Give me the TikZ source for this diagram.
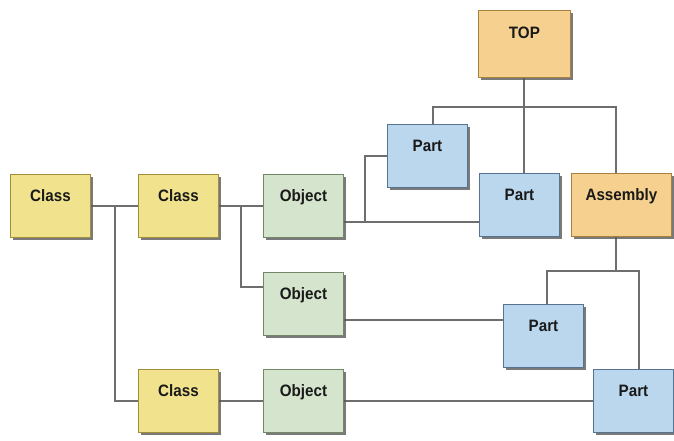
\documentclass[tikz,border=0pt]{standalone}
\usepackage{fontspec}
\setmainfont{Liberation Sans}
\newfontfamily\boxfont[FakeStretch=0.92]{Liberation Sans}
\usetikzlibrary{shadows,backgrounds}

\definecolor{classfill}{RGB}{241,227,142}
\definecolor{classedge}{RGB}{160,142,60}
\definecolor{objfill}{RGB}{213,228,204}
\definecolor{objedge}{RGB}{115,136,105}
\definecolor{partfill}{RGB}{186,215,238}
\definecolor{partedge}{RGB}{86,116,146}
\definecolor{asmfill}{RGB}{245,208,142}
\definecolor{asmedge}{RGB}{168,128,62}
\definecolor{wire}{RGB}{110,110,110}
\definecolor{ink}{RGB}{25,25,25}

\tikzset{
  box/.style={anchor=north west, rectangle, line width=0.9pt,
    minimum width=80pt, inner xsep=2pt, inner ysep=0pt,
    text height=27pt, text depth=36pt,
    font=\boxfont\bfseries\fontsize{16.5}{18}\selectfont, text=ink,
    drop shadow={shadow xshift=3pt, shadow yshift=-3pt, fill=black!65, opacity=0.8}},
  classbox/.style={box, fill=classfill, draw=classedge},
  objbox/.style={box, fill=objfill, draw=objedge},
  partbox/.style={box, fill=partfill, draw=partedge},
  asmbox/.style={box, fill=asmfill, draw=asmedge},
  wireline/.style={draw=wire, line width=1.3pt}
}

\begin{document}
\begin{tikzpicture}[x=1pt, y=-1pt]
  \useasboundingbox (0,0) rectangle (674,440);

  % classes
  \node[classbox] (cl1) at (10,174) {Class};
  \node[classbox] (cl2) at (138,174) {Class};
  \node[classbox] (cl3) at (138,369) {Class};

  % objects
  \node[objbox] (ob1) at (263,174) {Object};
  \node[objbox] (ob2) at (263,272) {Object};
  \node[objbox] (ob3) at (263,369) {Object};

  % parts and assemblies
  \node[asmbox, minimum width=92pt, text height=28pt, text depth=39pt] (top) at (478,10) {TOP};
  \node[partbox] (pa1) at (387,124) {Part};
  \node[partbox] (pa2) at (479,173) {Part};
  \node[asmbox, minimum width=100pt] (asm) at (571,173) {Assembly};
  \node[partbox] (pa3) at (503,304) {Part};
  \node[partbox] (pa4) at (593,369) {Part};

  % junction points of the tree
  \coordinate (k1) at (115,205);
  \coordinate (k2) at (241,205);
  \coordinate (k3) at (241,287);
  \coordinate (j1) at (365,222);
  \coordinate (j2) at (365,320);
  \coordinate (b1) at (433,107);
  \coordinate (b2) at (616,107);
  \coordinate (bt) at (524,107);
  \coordinate (d1) at (547,271);
  \coordinate (d2) at (639,271);
  \coordinate (da) at (616,271);

  \begin{pgfonlayer}{background}
    % class hierarchy
    \draw[wireline] (cl1.east) -- (cl2.west);
    \draw[wireline] (k1) |- (cl3.west);
    \draw[wireline] (cl2.east) -- (ob1.west);
    \draw[wireline] (k2) -- (k3) -- (ob2.west |- k3);
    \draw[wireline] (cl3.east) -- (ob3.west);

    % objects to parts
    \draw[wireline] (ob1.east |- j1) -- (pa2.west |- j1);
    \draw[wireline] (j1) |- (pa1.west);
    \draw[wireline] (ob2.east |- j2) -- (pa3.west |- j2);
    \draw[wireline] (ob3.east) -- (pa4.west |- ob3.east);

    % TOP assembly
    \draw[wireline] (top.south -| bt) -- (bt |- pa2.north);
    \draw[wireline] (b1 |- pa1.north) -- (b1) -- (b2) -- (b2 |- asm.north);

    % sub-assembly
    \draw[wireline] (asm.south -| da) -- (da);
    \draw[wireline] (d1 |- pa3.north) -- (d1) -- (d2) -- (d2 |- pa4.north);
  \end{pgfonlayer}
\end{tikzpicture}
\end{document}
